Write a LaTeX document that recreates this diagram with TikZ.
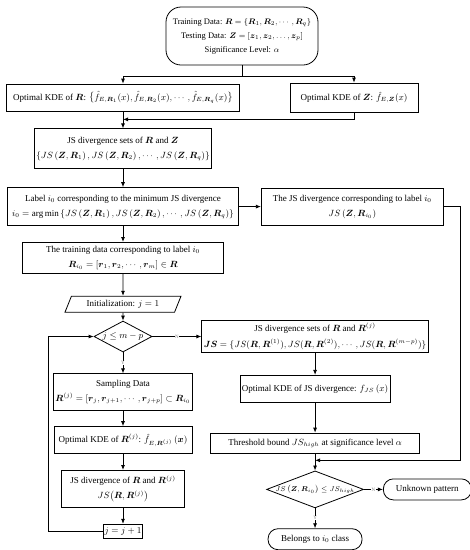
\documentclass[tikz,border=0pt]{standalone}
\usepackage{amsmath}
\usepackage{amssymb}
\usepackage{fontspec}
\setmainfont{Liberation Serif}
\usepackage{tikz}
\usetikzlibrary{positioning,arrows.meta,shapes.geometric,calc}
\newcommand{\bR}{\boldsymbol{R}}
\newcommand{\bZ}{\boldsymbol{Z}}
\tikzset{
    flowbox/.style={draw, line width=0.8pt, rectangle, align=center, inner sep=2pt, font=\fontsize{9}{15}\selectfont},
    flowterm/.style={draw, line width=0.8pt, rounded corners=10pt, align=center, inner sep=2pt, font=\fontsize{9}{12}\selectfont},
    flowio/.style={draw, line width=0.8pt, trapezium, trapezium left angle=65, trapezium right angle=115, trapezium stretches=true, inner sep=1pt, font=\fontsize{9}{12}\selectfont},
    flowdecision/.style={draw, line width=0.8pt, diamond, aspect=2, inner sep=0pt, font=\fontsize{9}{12}\selectfont},
    flowarrow/.style={draw, line width=0.8pt, -{Latex[length=5pt,width=4pt]}},
    flowline/.style={draw, line width=0.8pt},
    flowtag/.style={font=\fontsize{5}{6}\selectfont, text=gray, fill=white, inner sep=0.5pt}
}
\begin{document}
\begin{tikzpicture}[x=1pt, y=-1pt]
    \useasboundingbox (0,0) rectangle (470,550);
    \node[flowterm, rounded corners=15pt, inner sep=1pt, font=\fontsize{8.5}{14}\selectfont, minimum width=152pt, minimum height=58pt] (start) at (242,36)
        {Training Data: $\bR=\{\bR_1,\bR_2,\cdots,\bR_q\}$\\
         Testing Data: $\bZ=[\boldsymbol{z}_1,\boldsymbol{z}_2,\ldots,\boldsymbol{z}_p]$\\
         Significance Level: $\alpha$};
    \node[flowbox, minimum width=233pt, minimum height=27pt] (kdeR) at (123,97.5)
        {Optimal KDE of $\bR$: $\bigl\{\hat{f}_{E,\bR_1}(x),\hat{f}_{E,\bR_2}(x),\cdots,\hat{f}_{E,\bR_q}(x)\bigr\}$};
    \node[flowbox, minimum width=128pt, minimum height=29pt] (kdeZ) at (354,97.5)
        {Optimal KDE of $\bZ$: $\hat{f}_{E,\bZ}(x)$};
    \node[flowbox, minimum width=166pt, minimum height=40pt, below=17pt of kdeR] (jssets)
        {JS divergence sets of $\bR$ and $\bZ$\\
         $\left\{JS\left(\bZ,\bR_1\right),JS\left(\bZ,\bR_2\right),\cdots,JS\left(\bZ,\bR_q\right)\right\}$};
    \node[flowbox, minimum width=231pt, minimum height=38pt, below=18pt of jssets] (label)
        {Label $i_0$ corresponding to the minimum JS divergence\\
         $i_0=\arg\min\left\{JS\left(\bZ,\bR_1\right),JS\left(\bZ,\bR_2\right),\cdots,JS\left(\bZ,\bR_q\right)\right\}$};
    \node[flowbox, minimum width=182pt, minimum height=37pt, right=22pt of label] (jsbest)
        {The JS divergence corresponding to label $i_0$\\
         $JS\left(\bZ,\bR_{i_0}\right)$};
    \node[flowbox, minimum width=201pt, minimum height=31pt, below=16pt of label] (training)
        {The training data corresponding to label $i_0$\\
         $\bR_{i_0}=\left[\boldsymbol{r}_1,\boldsymbol{r}_2,\cdots,\boldsymbol{r}_m\right]\in\bR$};
    \node[flowio, minimum width=117pt, minimum height=16pt, below=22pt of training] (init)
        {Initialization: $j=1$};
    \node[flowdecision, minimum width=58pt, minimum height=31pt, below=8pt of init] (test)
        {$j\le m-p$};
    \node[flowbox, minimum width=118pt, minimum height=37pt, below=21pt of test] (sample)
        {Sampling Data\\
         $\bR^{(j)}=\left[\boldsymbol{r}_j,\boldsymbol{r}_{j+1},\cdots,\boldsymbol{r}_{j+p}\right]\subset\bR_{i_0}$};
    \node[flowbox, minimum width=138pt, minimum height=27pt, below=15pt of sample] (kdeRj)
        {Optimal KDE of $\bR^{(j)}$: $\hat{f}_{E,\bR^{(j)}}\left(\boldsymbol{x}\right)$};
    \node[flowbox, minimum width=123pt, minimum height=37pt, below=16pt of kdeRj] (jsdiv)
        {JS divergence of $\bR$ and $\bR^{(j)}$\\
         $JS\bigl(\bR,\bR^{(j)}\bigr)$};
    \node[flowbox, minimum width=33pt, minimum height=14pt, inner sep=1pt, font=\fontsize{9}{11}\selectfont, below=16pt of jsdiv] (jinc)
        {$j=j+1$};
    \node[flowbox, minimum width=202pt, minimum height=32pt, inner ysep=1pt, font=\fontsize{9}{16}\selectfont, right=49pt of test] (jssetsRj)
        {JS divergence sets of $\bR$ and $\bR^{(j)}$\\
         $\boldsymbol{JS}=\{JS(\bR,\bR^{(1)}),JS(\bR,\bR^{(2)}),\cdots,JS(\bR,\bR^{(m-p)})\}$};
    \node[flowbox, minimum width=105pt, minimum height=27pt, below=22pt of jssetsRj] (kdeJS)
        {Optimal KDE of JS divergence: $f_{JS}\left(x\right)$};
    \node[flowbox, minimum width=209pt, minimum height=20pt, below=30pt of kdeJS] (thresh)
        {Threshold bound $JS_{high}$ at significance level $\alpha$};
    \node[flowdecision, minimum width=97pt, minimum height=37pt, below=17pt of thresh,
        label={[font=\fontsize{7}{9}\selectfont]center:$JS\left(\bZ,\bR_{i_0}\right)\le JS_{high}$}] (check) {};
    \node[flowterm, minimum width=88pt, minimum height=21pt, right=19pt of check] (unknown)
        {Unknown pattern};
    \node[flowterm, minimum width=94pt, minimum height=21pt, below=20pt of check] (belongs)
        {Belongs to $i_0$ class};

    % top split
    \draw[flowline] (start.south) -- ++(0,11) coordinate (split);
    \draw[flowarrow] (split) -| (kdeR.north);
    \draw[flowarrow] (split) -| (kdeZ.north);
    \draw[flowarrow] (kdeZ.south) |- ($(kdeR.south)!0.47!(jssets.north)$);
    \draw[flowarrow] (kdeR) -- (jssets);
    \draw[flowarrow] (jssets) -- (label);
    \draw[flowarrow] (label) -- (jsbest);
    \draw[flowarrow] (label) -- (training);
    \draw[flowarrow] (training) -- (init);
    \draw[flowarrow] (init) -- (test);
    % loop
    \draw[flowarrow] (test) -- node[flowtag] {Y} (sample);
    \draw[flowarrow] (test) -- node[flowtag] {N} (jssetsRj);
    \draw[flowarrow] (sample) -- (kdeRj);
    \draw[flowarrow] (kdeRj) -- (jsdiv);
    \draw[flowarrow] (jsdiv) -- (jinc);
    \draw[flowarrow] (jinc.west) -- ++(-55,0) |- (test.west);
    % threshold
    \draw[flowarrow] (jssetsRj) -- (kdeJS);
    \draw[flowarrow] (kdeJS) -- (thresh);
    \draw[flowarrow] (thresh) -- (check);
    \draw[flowarrow] (jsbest.east) -- ++(17,0) |- ($(thresh.south)!0.4!(check.north)$);
    \draw[flowarrow] (check) -- node[flowtag] {N} (unknown);
    \draw[flowarrow] (check) -- node[flowtag] {Y} (belongs);
\end{tikzpicture}
\end{document}
